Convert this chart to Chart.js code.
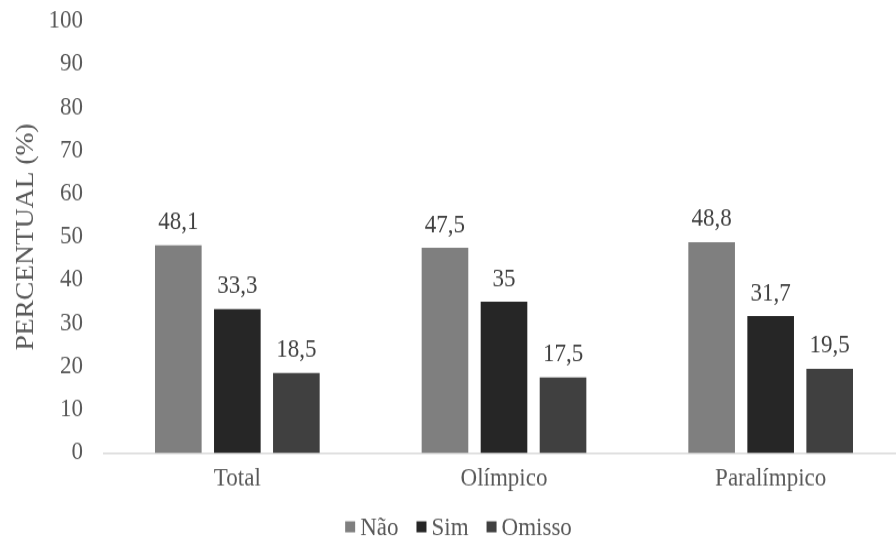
<!DOCTYPE html>
<html lang="pt">
<head>
<meta charset="utf-8">
<title>Percentual por grupo</title>
<script src="https://cdn.jsdelivr.net/npm/chart.js@4.4.1/dist/chart.umd.min.js"></script>
<style>
  html, body { margin: 0; padding: 0; background: #ffffff; overflow: hidden; }
  #wrap { width: 904px; height: 545px; }
  /* texto em Times fica mais alto que largo, como no original */
  #grupoChart { transform: scaleY(1.101); transform-origin: 0 0; }
</style>
</head>
<body>
<div id="wrap"><canvas id="grupoChart" width="904" height="495"></canvas></div>
<script>
// Categorias e séries (%)
const categorias = ['Total', 'Olímpico', 'Paralímpico'];
const serieNao = [48.1, 47.5, 48.8];
const serieSim = [33.3, 35, 31.7];
const serieOmisso = [18.5, 17.5, 19.5];
const yTicks = [0, 10, 20, 30, 40, 50, 60, 70, 80, 90, 100];

const FONT = "'Liberation Serif', 'Times New Roman', serif";
const TEXT_GRAY = '#595959';

Chart.defaults.font.family = FONT;
Chart.defaults.font.size = 23;
Chart.defaults.color = TEXT_GRAY;

// Escreve o valor de cada barra logo acima dela, com vírgula decimal
const rotulosPlugin = {
    id: 'rotulos',
    afterDatasetsDraw(chart) {
        const ctx = chart.ctx;
        ctx.save();
        ctx.font = '23px ' + FONT;
        ctx.fillStyle = '#404040';
        ctx.textAlign = 'center';
        ctx.textBaseline = 'bottom';
        chart.data.datasets.forEach((ds, i) => {
            chart.getDatasetMeta(i).data.forEach((bar, j) => {
                const txt = String(ds.data[j]).replace('.', ',');
                ctx.fillText(txt, bar.x, bar.y - 9);
            });
        });
        ctx.restore();
    }
};

// Legenda compacta abaixo do eixo: quadradinho + nome de cada série
const legendaPlugin = {
    id: 'legenda',
    afterDraw(chart) {
        const ctx = chart.ctx;
        const box = 10, gapTexto = 5, gapItem = 18;
        const y = 478.5;
        ctx.save();
        ctx.font = '23px ' + FONT;
        ctx.textBaseline = 'middle';
        ctx.textAlign = 'left';
        const itens = chart.data.datasets.map(ds => ({
            nome: ds.label,
            cor: ds.backgroundColor,
            w: ctx.measureText(ds.label).width
        }));
        const total = itens.reduce((s, it) => s + box + gapTexto + it.w, 0) + gapItem * (itens.length - 1);
        let x = 458.5 - total / 2;
        itens.forEach(it => {
            ctx.fillStyle = it.cor;
            ctx.fillRect(x, y - box / 2, box, box);
            x += box + gapTexto;
            ctx.fillStyle = TEXT_GRAY;
            ctx.fillText(it.nome, x, y + 1);
            x += it.w + gapItem;
        });
        ctx.restore();
    }
};

const ctx = document.getElementById('grupoChart').getContext('2d');
new Chart(ctx, {
    type: 'bar',
    data: {
        labels: categorias,
        datasets: [
            { label: 'Não', data: serieNao, backgroundColor: '#7f7f7f' },
            { label: 'Sim', data: serieSim, backgroundColor: '#262626' },
            { label: 'Omisso', data: serieOmisso, backgroundColor: '#404040' }
        ]
    },
    options: {
        responsive: false,
        animation: false,
        layout: { padding: { top: 19, right: 0, bottom: 39.6, left: 0 } },
        datasets: {
            bar: { categoryPercentage: 0.664, barPercentage: 0.79 }
        },
        scales: {
            x: {
                afterFit: (scale) => { scale.height = 44; },
                grid: { display: false },
                border: { display: true, color: '#d9d9d9', width: 1.5 },
                ticks: { color: TEXT_GRAY, font: { family: FONT, size: 23 }, padding: 2 }
            },
            y: {
                min: 0,
                max: 100,
                afterBuildTicks: (scale) => {
                    scale.ticks = yTicks.map(v => ({ value: v }));
                },
                afterFit: (scale) => {
                    scale.width = 104;
                    scale.paddingTop = 0;
                    scale.paddingBottom = 0;
                },
                grid: { display: false },
                border: { display: false },
                ticks: { color: TEXT_GRAY, font: { family: FONT, size: 23 }, padding: 13 },
                title: {
                    display: true,
                    text: 'PERCENTUAL (%)',
                    color: TEXT_GRAY,
                    font: { family: FONT, size: 25 },
                    padding: 11
                }
            }
        },
        plugins: {
            legend: { display: false },
            tooltip: { enabled: false }
        }
    },
    plugins: [rotulosPlugin, legendaPlugin]
});
</script>
</body>
</html>
